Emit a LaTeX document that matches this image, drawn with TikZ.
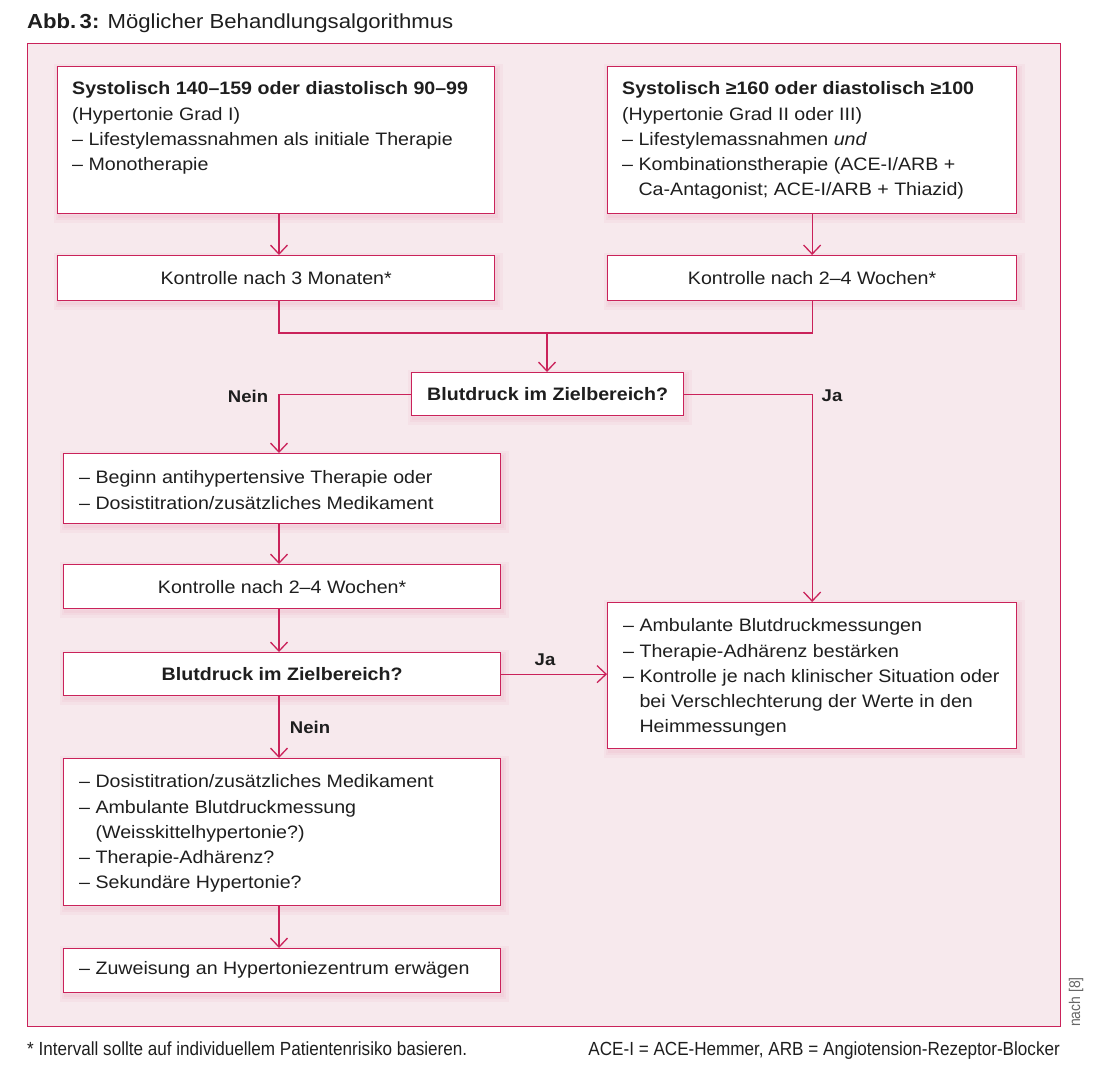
\documentclass[tikz,border=0pt]{standalone}
\usepackage{fontspec}
\setmainfont{Liberation Sans}[FakeStretch=1.09]
\newfontfamily\footfont{Liberation Sans}[FakeStretch=0.9]
\usetikzlibrary{arrows.meta}
\definecolor{frame}{RGB}{202,34,90}
\definecolor{bgpink}{RGB}{247,233,237}
\definecolor{ink}{RGB}{30,30,30}
\colorlet{shadA}{frame!4!bgpink}
\colorlet{shadB}{frame!8!bgpink}
\colorlet{shadC}{frame!12!bgpink}
\newcommand\bodyfs{\fontsize{18}{25.3}\selectfont}
\tikzset{
  box/.style={draw=frame, fill=white, line width=1.3pt, inner sep=0pt, anchor=north west,
    preaction={draw=shadA, line width=12pt, transform canvas={xshift=2pt, yshift=-3pt}},
    preaction={draw=shadB, line width=7pt, transform canvas={xshift=2pt, yshift=-3pt}},
    preaction={draw=shadC, line width=3pt, transform canvas={xshift=2pt, yshift=-3pt}}},
  txt/.style={inner sep=0pt, anchor=north west, align=left, font=\bodyfs, text=ink},
  lbl/.style={inner sep=0pt, font=\fontsize{17}{20}\selectfont\bfseries, text=ink},
  conn/.style={draw=frame, line width=1.3pt},
  arr/.style={conn, -{Straight Barb[length=9pt, width=17pt]}},
  foot/.style={inner sep=0pt, font=\footfont\fontsize{19}{22}\selectfont, text=ink}
}
\begin{document}
\begin{tikzpicture}[x=1pt, y=-1pt]
\useasboundingbox (0,0) rectangle (1100,1069);
% title
\node[anchor=base west, inner sep=0pt, font=\fontsize{20.3}{24}\selectfont, text=ink] (title) at (27,28)
  {\textbf{Abb.\,3:} Möglicher Behandlungsalgorithmus};
% outer frame
\node[draw=frame, fill=bgpink, line width=1.3pt, anchor=north west, minimum width=1033, minimum height=983, inner sep=0pt] (frm) at (27,43) {};
% boxes
\node[box, minimum width=437, minimum height=147] (b1) at (57,66) {};
\node[txt] (t1) at (72,81.5) {\textbf{Systolisch 140–159 oder diastolisch 90–99}\\(Hypertonie Grad I)\\– Lifestylemassnahmen als initiale Therapie\\– Monotherapie};
\node[box, minimum width=409, minimum height=147] (b2) at (607,66) {};
\node[txt] (t2) at (622,81.5) {\textbf{Systolisch ≥160 oder diastolisch ≥100}\\(Hypertonie Grad II oder III)\\– Lifestylemassnahmen \textit{und}\\– Kombinationstherapie (ACE-I/ARB +\\\phantom{– }Ca-Antagonist; ACE-I/ARB + Thiazid)};
\node[box, minimum width=437, minimum height=45, font=\bodyfs, text=ink] (k1) at (57,255) {Kontrolle nach 3 Monaten*};
\node[box, minimum width=409, minimum height=45, font=\bodyfs, text=ink] (k2) at (607,255) {Kontrolle nach 2–4 Wochen*};
\node[box, minimum width=272, minimum height=43, font=\bodyfs\bfseries, text=ink] (d1) at (411,372) {Blutdruck im Zielbereich?};
\node[box, minimum width=437, minimum height=70] (l2) at (63,453) {};
\node[txt] (t3) at (79,470.5) {– Beginn antihypertensive Therapie oder\\– Dosistitration/zusätzliches Medikament};
\node[box, minimum width=437, minimum height=44, font=\bodyfs, text=ink] (k3) at (63,564) {Kontrolle nach 2–4 Wochen*};
\node[box, minimum width=437, minimum height=43, font=\bodyfs\bfseries, text=ink] (d2) at (63,652) {Blutdruck im Zielbereich?};
\node[box, minimum width=437, minimum height=147] (l4) at (63,758) {};
\node[txt] (t4) at (79,774.5) {– Dosistitration/zusätzliches Medikament\\– Ambulante Blutdruckmessung\\\phantom{– }(Weisskittelhypertonie?)\\– Therapie-Adhärenz?\\– Sekundäre Hypertonie?};
\node[box, minimum width=437, minimum height=44] (l5) at (63,948) {};
\node[txt, anchor=west] (t5) at (79,970) {– Zuweisung an Hypertoniezentrum erwägen};
\node[box, minimum width=409, minimum height=146] (r3) at (607,602) {};
\node[txt] (t6) at (623,618.5) {– Ambulante Blutdruckmessungen\\– Therapie-Adhärenz bestärken\\– Kontrolle je nach klinischer Situation oder\\\phantom{– }bei Verschlechterung der Werte in den\\\phantom{– }Heimmessungen};
% labels
\node[lbl] (n1) at (248,396) {Nein};
\node[lbl] (j1) at (832,396) {Ja};
\node[lbl] (j2) at (545,660) {Ja};
\node[lbl] (n2) at (310,727) {Nein};
% connectors
\coordinate (cl) at (279,0);
\coordinate (m) at (547,333);
\draw[arr] (b1.south -| cl) -- (k1.north -| cl);
\draw[arr] (b2.south) -- (k2.north);
\draw[conn] (k1.south -| cl) |- (m) -| (k2.south);
\draw[arr] (m) -- (m |- d1.north);
\draw[arr] (d1.west) -| (l2.north -| cl);
\draw[arr] (d1.east) -| (r3.north);
\draw[arr] (l2.south -| cl) -- (k3.north -| cl);
\draw[arr] (k3.south -| cl) -- (d2.north -| cl);
\draw[arr] (d2.east) -- (d2.east -| r3.west);
\draw[arr] (d2.south -| cl) -- (l4.north -| cl);
\draw[arr] (l4.south -| cl) -- (l5.north -| cl);
% footer
\node[foot, anchor=base west] (f1) at (27,1055) {* Intervall sollte auf individuellem Patientenrisiko basieren.};
\node[foot, anchor=base east] (f2) at (1060,1055) {ACE-I = ACE-Hemmer, ARB = Angiotension-Rezeptor-Blocker};
\node[rotate=90, inner sep=0pt, font=\footfont\fontsize{15.5}{18}\selectfont, text=black!60] (src) at (1076,1002) {nach [8]};
\end{tikzpicture}
\end{document}
